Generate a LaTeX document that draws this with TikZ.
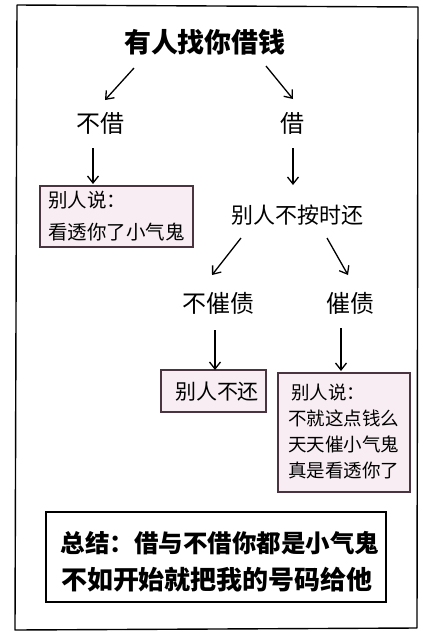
\documentclass[tikz,border=0pt]{standalone}
\usepackage{fontspec}
\newfontfamily\cjk{Noto Sans CJK SC}
\usetikzlibrary{arrows.meta}
\definecolor{boxline}{HTML}{4A3440}
\definecolor{boxfill}{HTML}{F7EDF3}
\tikzset{
  lbl/.style={inner sep=0pt, font=\cjk},
  arr/.style={line width=1.3pt, -{Straight Barb[length=7pt,width=11pt,line width=1.3pt]}},
  pinkbox/.style={draw=boxline, line width=2.6pt, fill=boxfill, inner sep=0pt},
  sumbox/.style={draw=black, line width=2.6pt, fill=white, inner sep=0pt},
}
\begin{document}
\begin{tikzpicture}[x=1pt,y=-1pt]
\useasboundingbox (0,0) rectangle (432,641);
\fill[white] (0,0) rectangle (432,641);
% outer frame
\draw[line width=1.4pt, line join=round] (17,5) -- (418,7) -- (417,628) -- (15,630) -- cycle;

% text nodes
\node[lbl, font=\cjk\bfseries\fontsize{27}{30}\selectfont] (title) at (205,42) {有人找你借钱};
\node[lbl, font=\cjk\fontsize{24}{28}\selectfont] (bujie) at (100,123) {不借};
\node[lbl, font=\cjk\fontsize{24}{28}\selectfont] (jie) at (292,123) {借};
\node[lbl, font=\cjk\fontsize{22}{26}\selectfont] (late) at (297,215) {别人不按时还};
\node[lbl, font=\cjk\fontsize{24}{28}\selectfont] (bucui) at (218,303) {不催债};
\node[lbl, font=\cjk\fontsize{24}{28}\selectfont] (cui) at (350,303) {催债};

% boxes
\node[pinkbox, minimum width=153pt, minimum height=61pt] (box1) at (116.5,216.5) {};
\node[lbl, anchor=west, align=left, font=\cjk\fontsize{19.5}{32}\selectfont] (t1) at (48,216) {别人说：\\看透你了小气鬼};

\node[pinkbox, minimum width=105pt, minimum height=42pt] (box2) at (213.5,391) {};
\node[lbl, font=\cjk\fontsize{21}{25}\selectfont] (t2) at (217,392) {别人不还};

\node[pinkbox, minimum width=132pt, minimum height=119pt] (box3) at (344,432.5) {};
\node[lbl, anchor=west, align=left, font=\cjk\fontsize{18.5}{26}\selectfont] (t3) at (288,431) {\,别人说：\\不就这点钱么\\天天催小气鬼\\真是看透你了};

\node[sumbox, minimum width=340pt, minimum height=90pt] (box4) at (216,557) {};
\node[lbl, font=\cjk\bfseries\fontsize{24.5}{28}\selectfont] (s1) at (220,543) {总结：借与不借你都是小气鬼};
\node[lbl, font=\cjk\bfseries\fontsize{26}{30}\selectfont] (s2) at (217,580) {不如开始就把我的号码给他};

% arrow end points
\coordinate (a1s) at (134,68);  \coordinate (a1e) at (105,100);
\coordinate (a2s) at (266,66);  \coordinate (a2e) at (293,99);
\coordinate (a3s) at (93,148);  \coordinate (a3e) at (93,184);
\coordinate (a4s) at (293,148); \coordinate (a4e) at (293,185);
\coordinate (a5s) at (241,238); \coordinate (a5e) at (212,275);
\coordinate (a6s) at (327,238); \coordinate (a6e) at (348,275);
\coordinate (a7s) at (215,330); \coordinate (a7e) at (215,370);
\coordinate (a8s) at (341,328); \coordinate (a8e) at (341,371);

\draw[arr] (a1s) -- (a1e);
\draw[arr] (a2s) -- (a2e);
\draw[arr] (a3s) -- (a3e);
\draw[arr] (a4s) -- (a4e);
\draw[arr] (a5s) -- (a5e);
\draw[arr] (a6s) -- (a6e);
\draw[arr] (a7s) -- (a7e);
\draw[arr] (a8s) -- (a8e);
\end{tikzpicture}
\end{document}
